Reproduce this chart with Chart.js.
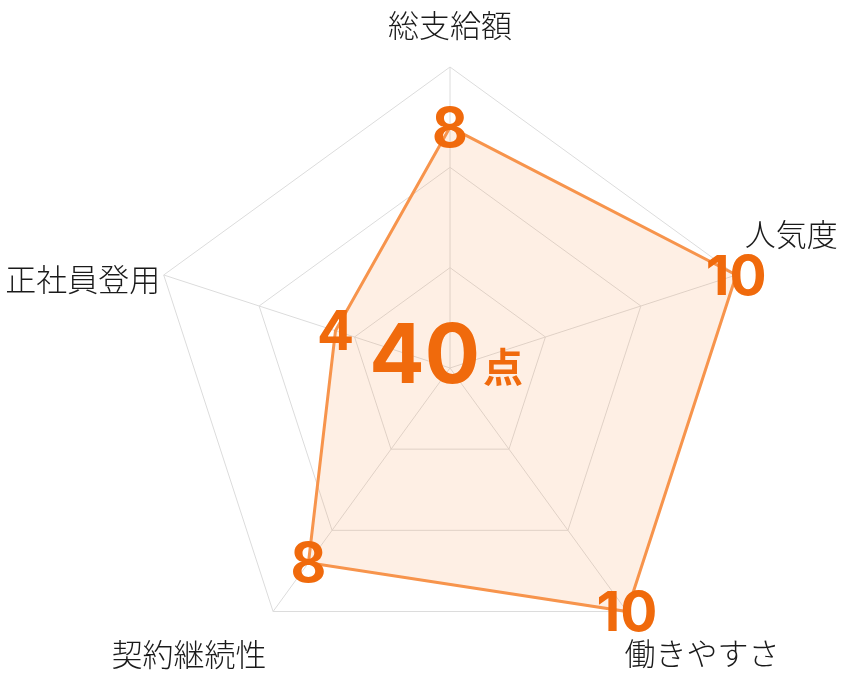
<!DOCTYPE html>
<html lang="ja">
<head>
  <meta charset="UTF-8">
  <title>評価レーダー</title>
  <script src="https://cdn.jsdelivr.net/npm/chart.js"></script>
  <style>
    body {
      margin: 0;
      padding: 0;
      background: #ffffff;
    }
    #wrap {
      width: 844px;
      height: 680px;
    }
  </style>
</head>
<body>
  <div id="wrap">
    <canvas id="radarChart" width="844" height="680"></canvas>
  </div>

  <script>
    // chart values
    const categories = ['総支給額', '人気度', '働きやすさ', '契約継続性', '正社員登用'];
    const scores = [8, 10, 10, 8, 4];
    const scoreMax = 10;
    const totalLabel = '40';
    const totalUnit = '点';

    const ORANGE = '#f06a0c';
    const LINE = '#f7944c';

    // offsets of each category label from its outer vertex
    const labelOffsets = [[0, -42], [55, -41], [75, 42], [-84, 43], [-81, 4]];

    // big orange numbers on each point
    const valueLabels = {
      id: 'valueLabels',
      afterDatasetsDraw(chart) {
        const ctx = chart.ctx;
        const meta = chart.getDatasetMeta(0);
        ctx.save();
        ctx.fillStyle = ORANGE;
        ctx.font = '700 55px Inter, sans-serif';
        ctx.textAlign = 'center';
        ctx.textBaseline = 'middle';
        meta.data.forEach((pt, i) => {
          ctx.fillText(String(scores[i]), pt.x, pt.y + 3);
        });
        ctx.restore();
      }
    };

    // category names and the total in the middle
    const outerText = {
      id: 'outerText',
      afterDraw(chart) {
        const ctx = chart.ctx;
        const r = chart.scales.r;
        ctx.save();
        ctx.fillStyle = '#1a1a1a';
        ctx.font = '300 31px "Noto Sans CJK JP", sans-serif';
        ctx.textAlign = 'center';
        ctx.textBaseline = 'middle';
        categories.forEach((name, i) => {
          const p = r.getPointPosition(i, r.drawingArea);
          const off = labelOffsets[i];
          ctx.fillText(name, p.x + off[0], p.y + off[1]);
        });

        // total score
        ctx.fillStyle = ORANGE;
        ctx.textBaseline = 'alphabetic';
        ctx.textAlign = 'right';
        ctx.font = '700 82px Inter, sans-serif';
        ctx.fillText(totalLabel, r.xCenter + 30, r.yCenter + 15);
        ctx.textAlign = 'left';
        ctx.font = '700 40px "Noto Sans CJK JP", sans-serif';
        ctx.fillText(totalUnit, r.xCenter + 33, r.yCenter + 14);
        ctx.restore();
      }
    };

    const ctx = document.getElementById('radarChart').getContext('2d');
    const chart = new Chart(ctx, {
      type: 'radar',
      data: {
        labels: categories,
        datasets: [{
          data: scores,
          backgroundColor: 'rgba(247, 148, 76, 0.15)',
          borderColor: LINE,
          borderWidth: 3,
          pointRadius: 0,
          pointHoverRadius: 0,
          fill: true
        }]
      },
      options: {
        responsive: false,
        animation: false,
        layout: {
          padding: { top: 67, bottom: 11, left: 56, right: 0 }
        },
        plugins: {
          legend: { display: false },
          tooltip: { enabled: false }
        },
        scales: {
          r: {
            min: 0,
            max: scoreMax,
            ticks: { display: false, count: 4 },
            pointLabels: { display: false },
            grid: { color: '#dcdcdc', lineWidth: 1 },
            angleLines: { color: '#dcdcdc', lineWidth: 1 }
          }
        }
      },
      plugins: [valueLabels, outerText]
    });
  </script>
</body>
</html>
